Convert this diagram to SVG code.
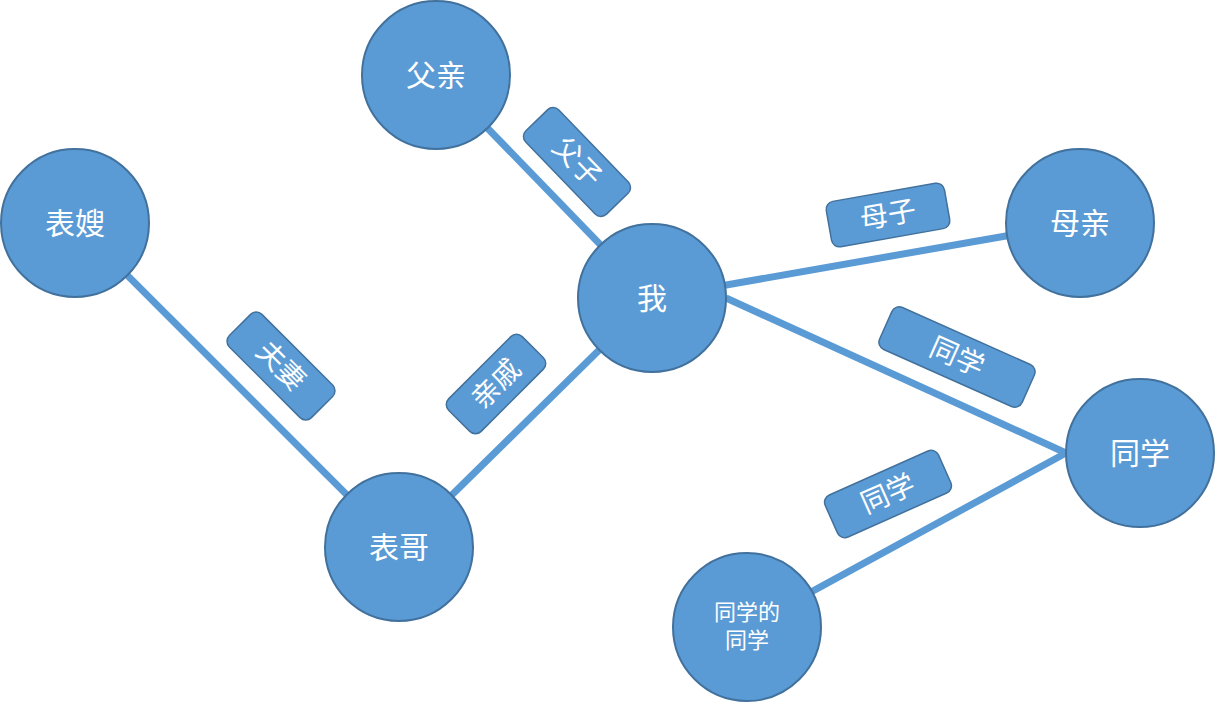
<svg xmlns="http://www.w3.org/2000/svg" width="1216" height="703" viewBox="0 0 1216 703">
<style>
.n{fill:#5B9BD5;stroke:#41719C;stroke-width:2}
.t{fill:#fff;font-family:"Liberation Sans","Noto Sans CJK SC",sans-serif;font-size:30px;text-anchor:middle;dominant-baseline:central}
.s{font-size:22px}
.e{stroke:#5B9BD5;stroke-width:7;fill:none}
.l{fill:#5B9BD5;stroke:#41719C;stroke-width:1.5}
.lt{fill:#fff;font-family:"Liberation Sans","Noto Sans CJK SC",sans-serif;font-size:28px;text-anchor:middle;dominant-baseline:central}
</style>
<rect width="1216" height="703" fill="#fff"/>
<g id="connectors">
<line class="e" x1="436" y1="75" x2="652" y2="298"/>
<line class="e" x1="75" y1="223" x2="399" y2="547"/>
<line class="e" x1="399" y1="547" x2="652" y2="298"/>
<line class="e" x1="652" y1="298" x2="1080" y2="223"/>
<line class="e" x1="726" y1="298" x2="1066" y2="453"/>
<line class="e" x1="747" y1="627" x2="1066" y2="453"/>
</g>
<g id="n-fuqin"><circle class="n" cx="436" cy="75" r="74"/><text class="t" x="436" y="75">父亲</text></g>
<g id="n-biaosao"><circle class="n" cx="75" cy="223" r="74"/><text class="t" x="75" y="223">表嫂</text></g>
<g id="n-wo"><circle class="n" cx="652" cy="298" r="74"/><text class="t" x="652" y="298">我</text></g>
<g id="n-muqin"><circle class="n" cx="1080" cy="223" r="74"/><text class="t" x="1080" y="223">母亲</text></g>
<g id="n-tongxue"><circle class="n" cx="1140" cy="453" r="74"/><text class="t" x="1140" y="453">同学</text></g>
<g id="n-biaoge"><circle class="n" cx="399" cy="547" r="74"/><text class="t" x="399" y="547">表哥</text></g>
<g id="n-txtx"><circle class="n" cx="747" cy="627" r="74"/><text class="t s" x="747" y="612">同学的</text><text class="t s" x="747" y="640">同学</text></g>
<g id="lb-fuzi" transform="translate(577,162) rotate(46)"><rect class="l" x="-58" y="-23" width="116" height="46" rx="8"/><text class="lt">父子</text></g>
<g id="lb-fuqi" transform="translate(281,366) rotate(45)"><rect class="l" x="-58" y="-23" width="116" height="46" rx="8"/><text class="lt">夫妻</text></g>
<g id="lb-qinqi" transform="translate(496,384) rotate(-45)"><rect class="l" x="-52" y="-23" width="104" height="46" rx="8"/><text class="lt">亲戚</text></g>
<g id="lb-muzi" transform="translate(888,215) rotate(-10)"><rect class="l" x="-60" y="-23" width="120" height="46" rx="8"/><text class="lt">母子</text></g>
<g id="lb-tx1" transform="translate(957,357) rotate(24)"><rect class="l" x="-78" y="-23" width="156" height="46" rx="8"/><text class="lt">同学</text></g>
<g id="lb-tx2" transform="translate(888,494) rotate(-24)"><rect class="l" x="-62" y="-23" width="124" height="46" rx="8"/><text class="lt">同学</text></g>
</svg>
